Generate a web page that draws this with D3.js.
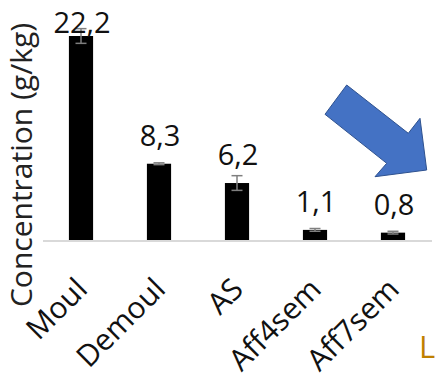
<!DOCTYPE html>
<html>
<head>
<meta charset="utf-8">
<script src="https://cdn.jsdelivr.net/npm/d3@7"></script>
<style>
  html, body { margin: 0; padding: 0; background: #fff; }
  svg { display: block; }
  text { font-family: "Open Sans", sans-serif; }
</style>
</head>
<body>
<div id="chart"></div>
<script>
const categories = ["Moul", "Demoul", "AS", "Aff4sem", "Aff7sem"];
const values = [22.2, 8.3, 6.2, 1.1, 0.8];
const errors = [0.8, 0.1, 0.8, 0.15, 0.15];
const valueLabels = ["22,2", "8,3", "6,2", "1,1", "0,8"];
const yTitle = "Concentration (g/kg)";
const cornerLetter = "L";

const W = 436, H = 390;
const svg = d3.select("#chart").append("svg").attr("width", W).attr("height", H);

const x = d3.scaleBand().domain(categories).range([42, 432]).paddingInner(0.69).paddingOuter(0.345);
const y = d3.scaleLinear().domain([0, 22.2]).range([240, 36]);

// baseline axis line
svg.append("line")
  .attr("x1", 43).attr("x2", 432)
  .attr("y1", y(0) + 1).attr("y2", y(0) + 1)
  .attr("stroke", "#d9d9d9").attr("stroke-width", 2);

const data = categories.map((c, i) => ({c, v: values[i], e: errors[i], lab: valueLabels[i]}));

// bars
svg.selectAll("rect.bar").data(data).enter().append("rect")
  .attr("class", "bar")
  .attr("x", d => x(d.c))
  .attr("width", x.bandwidth())
  .attr("y", d => y(d.v))
  .attr("height", d => y(0) - y(d.v))
  .attr("fill", "#000");

// error bars
const eg = svg.selectAll("g.err").data(data).enter().append("g").attr("class", "err")
  .attr("stroke", "#7f7f7f").attr("stroke-width", 1.5);
eg.append("line")
  .attr("x1", d => x(d.c) + x.bandwidth() / 2).attr("x2", d => x(d.c) + x.bandwidth() / 2)
  .attr("y1", d => y(d.v + d.e)).attr("y2", d => y(d.v - d.e));
eg.append("line")
  .attr("x1", d => x(d.c) + x.bandwidth() / 2 - 5.5).attr("x2", d => x(d.c) + x.bandwidth() / 2 + 5.5)
  .attr("y1", d => y(d.v + d.e)).attr("y2", d => y(d.v + d.e));
eg.append("line")
  .attr("x1", d => x(d.c) + x.bandwidth() / 2 - 5.5).attr("x2", d => x(d.c) + x.bandwidth() / 2 + 5.5)
  .attr("y1", d => y(d.v - d.e)).attr("y2", d => y(d.v - d.e));

// value labels
svg.selectAll("text.val").data(data).enter().append("text")
  .attr("class", "val")
  .attr("x", d => x(d.c) + x.bandwidth() / 2 + 1)
  .attr("y", d => Math.max(y(d.v) - 18, 33))
  .attr("text-anchor", "middle")
  .attr("font-size", 29)
  .attr("fill", "#111")
  .text(d => d.lab);

// x category labels, rotated -45
svg.selectAll("text.cat").data(data).enter().append("text")
  .attr("class", "cat")
  .attr("text-anchor", "end")
  .attr("font-size", 30)
  .attr("fill", "#111")
  .attr("transform", d => `translate(${x(d.c) + x.bandwidth() / 2 + 8},291) rotate(-45)`)
  .text(d => d.c);

// y title
svg.append("text")
  .attr("text-anchor", "middle")
  .attr("font-size", 30)
  .attr("fill", "#222")
  .attr("transform", "translate(32,165) rotate(-90)")
  .text(yTitle);

// blue arrow decoration
svg.append("path")
  .attr("d", "M346.7,85 L408.3,133.3 L420,118.3 L426.7,170 L375,176.7 L386.7,163.3 L325,114.3 Z")
  .attr("fill", "#4472c4")
  .attr("stroke", "#2f528f")
  .attr("stroke-width", 1);

// corner letter
svg.append("text")
  .attr("x", 419).attr("y", 358)
  .attr("font-size", 31)
  .attr("fill", "#bf8000")
  .text(cornerLetter);
</script>
</body>
</html>
